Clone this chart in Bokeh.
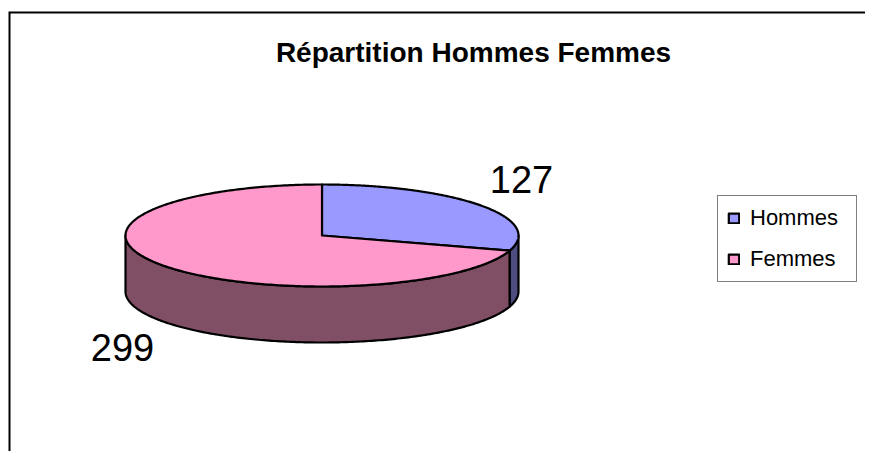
import numpy as np
from bokeh.plotting import figure
from bokeh.models import Range1d, Legend, LegendItem
from bokeh.core.properties import value
from bokeh.embed import file_html
from bokeh.resources import INLINE

# ---- data ----
title_text = "Répartition Hommes Femmes"
categories = ["Hommes", "Femmes"]
counts = [127, 299]
top_colors = ["#9999FF", "#FF99CC"]
side_colors = ["#4D4D80", "#804F65"]

# ---- layout / style ----
W, H = 865, 451
FRAME_L, FRAME_T = 9, 12      # chart-area border (left / top)
CX, CY = 321.5, 235.0         # pie centre (canvas px)
RA, RB = 196.5, 51.0          # ellipse semi-axes
DEPTH = 56.0                  # pie thickness
LABEL_KX, LABEL_KY = 1.26, 1.85
FONT = "Liberation Sans"
OUTLINE_W = 2.2

p = figure(width=W, height=H, output_backend="svg", toolbar_location=None,
           x_range=Range1d(0, W), y_range=Range1d(H, 0),
           x_axis_location=None, y_axis_location=None,
           min_border=0, min_border_left=0, min_border_right=0,
           min_border_top=0, min_border_bottom=0)
p.grid.visible = False
p.outline_line_color = None
p.background_fill_color = "white"
p.border_fill_color = "white"

# chart-area border (only left and top edges are within the view)
p.line(x=[FRAME_L, FRAME_L, W + 5], y=[H + 5, FRAME_T, FRAME_T],
       line_color="black", line_width=2, line_join="miter")

total = float(sum(counts))
# slices go clockwise starting at 12 o'clock
starts, ends = [], []
a = 90.0
for c in counts:
    sweep = 360.0 * c / total
    starts.append(a)
    ends.append(a - sweep)
    a -= sweep

def px(t):
    return CX + RA * np.cos(np.radians(t))

def py(t, dz=0.0):
    return CY - RB * np.sin(np.radians(t)) + dz

# side walls (front half: angles in (-180, 0))
for i in range(len(counts)):
    lo, hi = ends[i], starts[i]
    for off in (0.0, -360.0, 360.0):
        a1 = max(lo + off, -180.0)
        a2 = min(hi + off, 0.0)
        if a2 > a1:
            t = np.linspace(a1, a2, 200)
            xs = list(px(t)) + list(px(t[::-1]))
            ys = list(py(t)) + list(py(t[::-1], DEPTH))
            p.patch(xs, ys, fill_color=side_colors[i], line_color="black",
                    line_width=OUTLINE_W, line_join="round")

# top faces
tops = []
for i in range(len(counts)):
    t = np.linspace(starts[i], ends[i], 300)
    xs = [CX] + list(px(t)) + [CX]
    ys = [CY] + list(py(t)) + [CY]
    r = p.patch(xs, ys, fill_color=top_colors[i], line_color="black",
                line_width=OUTLINE_W, line_join="round")
    tops.append(r)

# value labels
lx, ly, lt = [], [], []
for i in range(len(counts)):
    mid = (starts[i] + ends[i]) / 2.0
    m = np.radians(mid)
    x = CX + RA * LABEL_KX * np.cos(m)
    y = CY - RB * LABEL_KY * np.sin(m)
    if np.sin(m) < 0:
        y += DEPTH
    lx.append(x); ly.append(y); lt.append(str(counts[i]))
p.text(x=lx, y=ly, text=lt, text_font=value(FONT), text_font_size="38px",
       text_align="center", text_baseline="middle", text_color="black")

# title
p.text(x=[473], y=[52], text=[title_text], text_font=value(FONT),
       text_font_size="28px", text_font_style="bold", text_align="center",
       text_baseline="middle", text_color="black")

legend = Legend(items=[LegendItem(label=categories[i], renderers=[tops[i]]) for i in range(len(counts))],
                location=(717, H - 282))
legend.border_line_color = "black"
legend.border_line_width = 1
legend.background_fill_color = "white"
legend.background_fill_alpha = 1.0
legend.padding = 9
legend.spacing = 15
legend.margin = 0
legend.glyph_width = 13
legend.glyph_height = 12
legend.label_standoff = 10
legend.label_width = 97
legend.label_height = 22
legend.label_text_font = FONT
legend.label_text_font_size = "22px"
legend.label_text_color = "black"
p.add_layout(legend)

open("out.html", "w").write(file_html(p, INLINE))
